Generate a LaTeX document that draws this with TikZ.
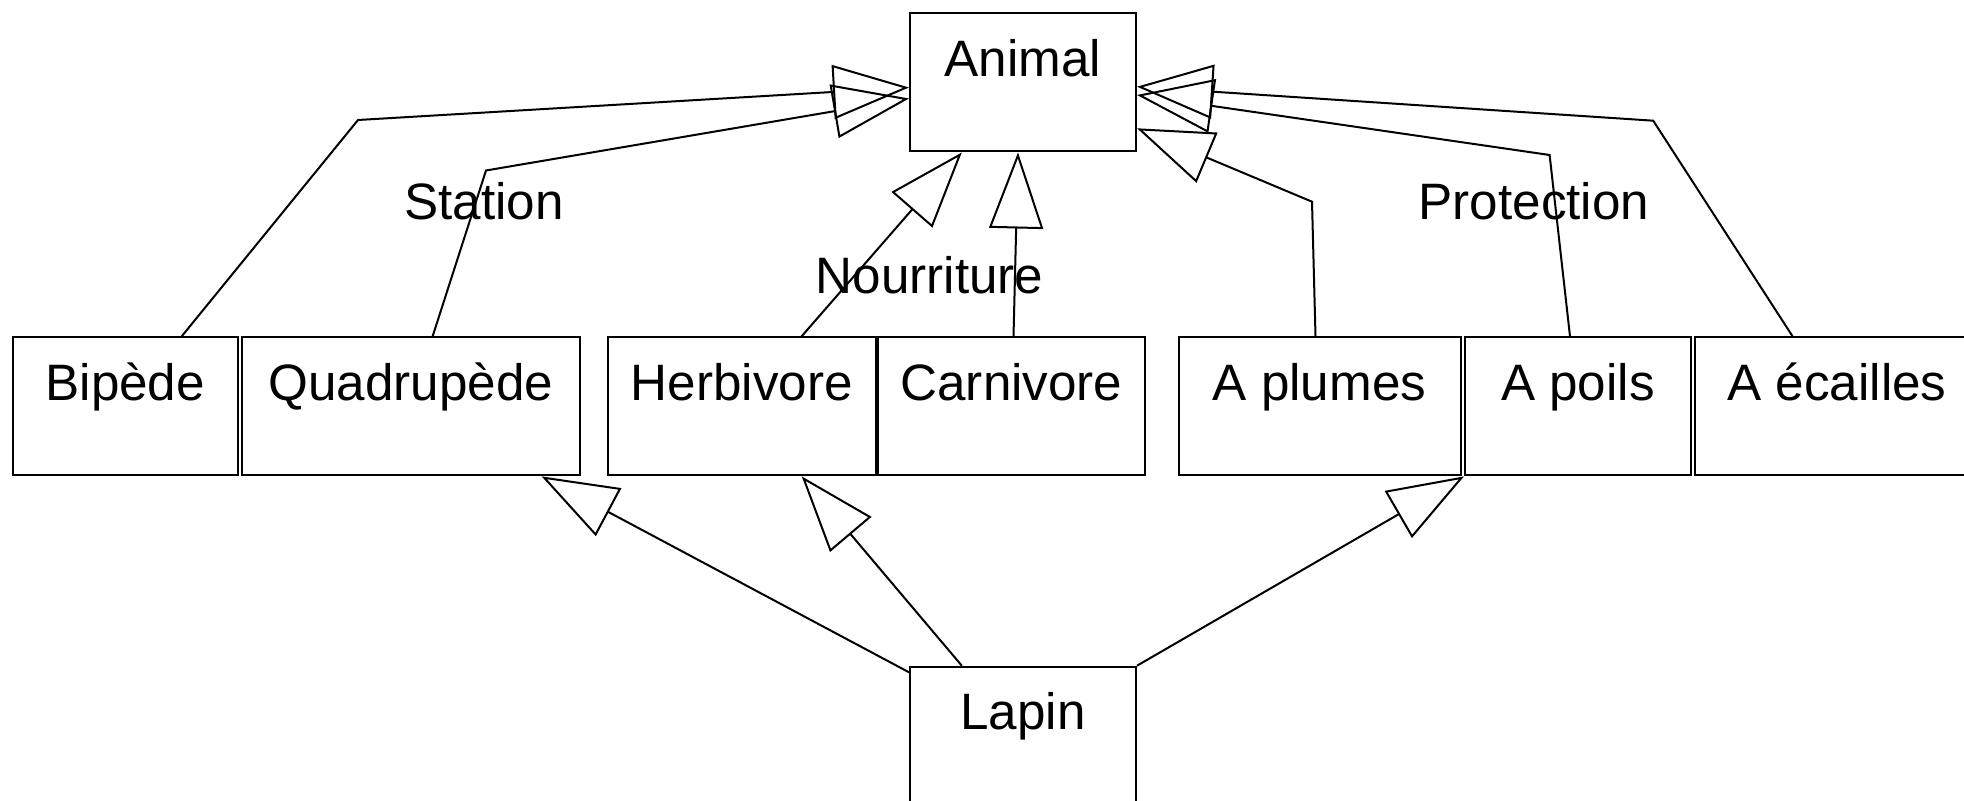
\documentclass[tikz,border=0pt]{standalone}
\usepackage{fontspec}
\setmainfont{Liberation Sans}
\usetikzlibrary{arrows.meta}
\begin{document}
\begin{tikzpicture}[x=0.5pt,y=-0.5pt,
  cls/.style={draw, line width=1pt, inner sep=0pt, text height=31.5pt, text depth=37.5pt, minimum width=#1},
  lbl/.style={anchor=base, inner sep=0pt},
  inh/.style={line width=1pt, -{Triangle[open, length=38pt, width=27pt]}},
  every node/.style={font=\fontsize{25.6pt}{30pt}\selectfont}]
\useasboundingbox (0,0) rectangle (1964,801);
% classes
\node[cls=113pt] (animal) at (1023,82.5) {Animal};
\node[cls=112.75pt] (bipede) at (125.25,406.4) {Bipède};
\node[cls=169pt] (quad) at (411,406.4) {Quadrupède};
\node[cls=133.75pt] (herb) at (741.75,406.4) {Herbivore};
\node[cls=133.5pt] (carn) at (1011.5,406.4) {Carnivore};
\node[cls=141pt] (plumes) at (1319.5,406.4) {A plumes};
\node[cls=113pt] (poils) at (1578,406.4) {A poils};
\node[cls=142pt] (ecailles) at (1837,406.4) {A écailles};
\node[cls=113pt] (lapin) at (1023,735.7) {Lapin};
% labels
\node[lbl] (station) at (484,220) {Station};
\node[lbl] (nourriture) at (929.5,293.3) {Nourriture};
\node[lbl] (protection) at (1534,220) {Protection};
% generalisations towards Animal
\draw[inh] ([xshift=28.2pt]bipede.north) -- (358,120) -- ([yshift=-2.5pt]animal.west);
\draw[inh] ([xshift=10.8pt]quad.north) -- (486,170.5) -- ([yshift=-8pt]animal.west);
\draw[inh] ([xshift=29.9pt]herb.north) -- ([xshift=-30.6pt]animal.south);
\draw[inh] ([xshift=1pt]carn.north) -- ([xshift=-2.5pt]animal.south);
\draw[inh] ([xshift=-2pt]plumes.north) -- (1312,201.7) -- ([yshift=-22.9pt]animal.east);
\draw[inh] ([xshift=-4pt]poils.north) -- (1549.6,155) -- ([yshift=-6.25pt]animal.east);
\draw[inh] ([xshift=-22.2pt]ecailles.north) -- (1653.2,120.7) -- ([yshift=-2.1pt]animal.east);
% generalisations from Lapin
\draw[inh] ([yshift=-3.3pt]lapin.north west) -- ([xshift=65.3pt]quad.south);
\draw[inh] ([xshift=-30.6pt]lapin.north) -- ([xshift=30pt]herb.south);
\draw[inh] (lapin.north east) -- (poils.south west);
\end{tikzpicture}
\end{document}
